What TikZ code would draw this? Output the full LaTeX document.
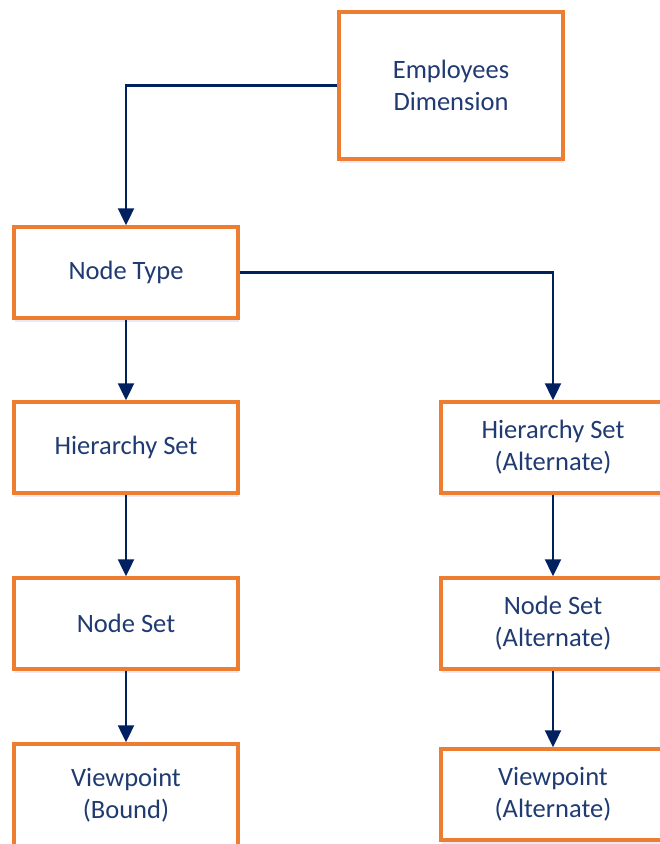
\documentclass[tikz,border=0pt]{standalone}
\usepackage{fontspec}
\setmainfont{Carlito}
\usetikzlibrary{arrows.meta,shadows}
\definecolor{boxorange}{HTML}{ED7D31}
\definecolor{linenavy}{HTML}{002060}
\definecolor{textnavy}{HTML}{203A72}

\begin{document}
\begin{tikzpicture}[x=1pt, y=-1pt,
    box/.style={draw=boxorange, line width=3.5pt, fill=white, minimum width=224pt, minimum height=91pt,
        inner sep=0pt, align=center, text=textnavy, font=\fontsize{26.5}{32}\selectfont,
        drop shadow={shadow xshift=1pt, shadow yshift=-4pt, opacity=0.12, fill=blue!40!gray}},
    link/.style={draw=linenavy, line width=2.4pt, -{Triangle[length=17pt,width=16pt]}}]
    \useasboundingbox (0,0) rectangle (660,844);
    \clip (0,0) rectangle (660,844);

    \node[box, minimum height=147pt] (emp) at (451,85.5) {Employees\\Dimension};
    \node[box] (ntype) at (126,272.5) {Node Type};
    \node[box] (hset) at (126,447.5) {Hierarchy Set};
    \node[box] (nset) at (126,623.5) {Node Set};
    \node[box, minimum height=102pt] (vbound) at (126,795) {Viewpoint\\(Bound)};
    \node[box] (althset) at (553,447.5) {Hierarchy Set\\(Alternate)};
    \node[box] (altnset) at (553,623.5) {Node Set\\(Alternate)};
    \node[box] (altvp) at (553,794.5) {Viewpoint\\(Alternate)};

    \draw[link] (emp.west) -| (ntype.north);
    \draw[link] (ntype.east) -| (althset.north);
    \draw[link] (ntype) -- (hset);
    \draw[link] (hset) -- (nset);
    \draw[link] (nset) -- (vbound);
    \draw[link] (althset) -- (altnset);
    \draw[link] (altnset) -- (altvp);
\end{tikzpicture}
\end{document}
